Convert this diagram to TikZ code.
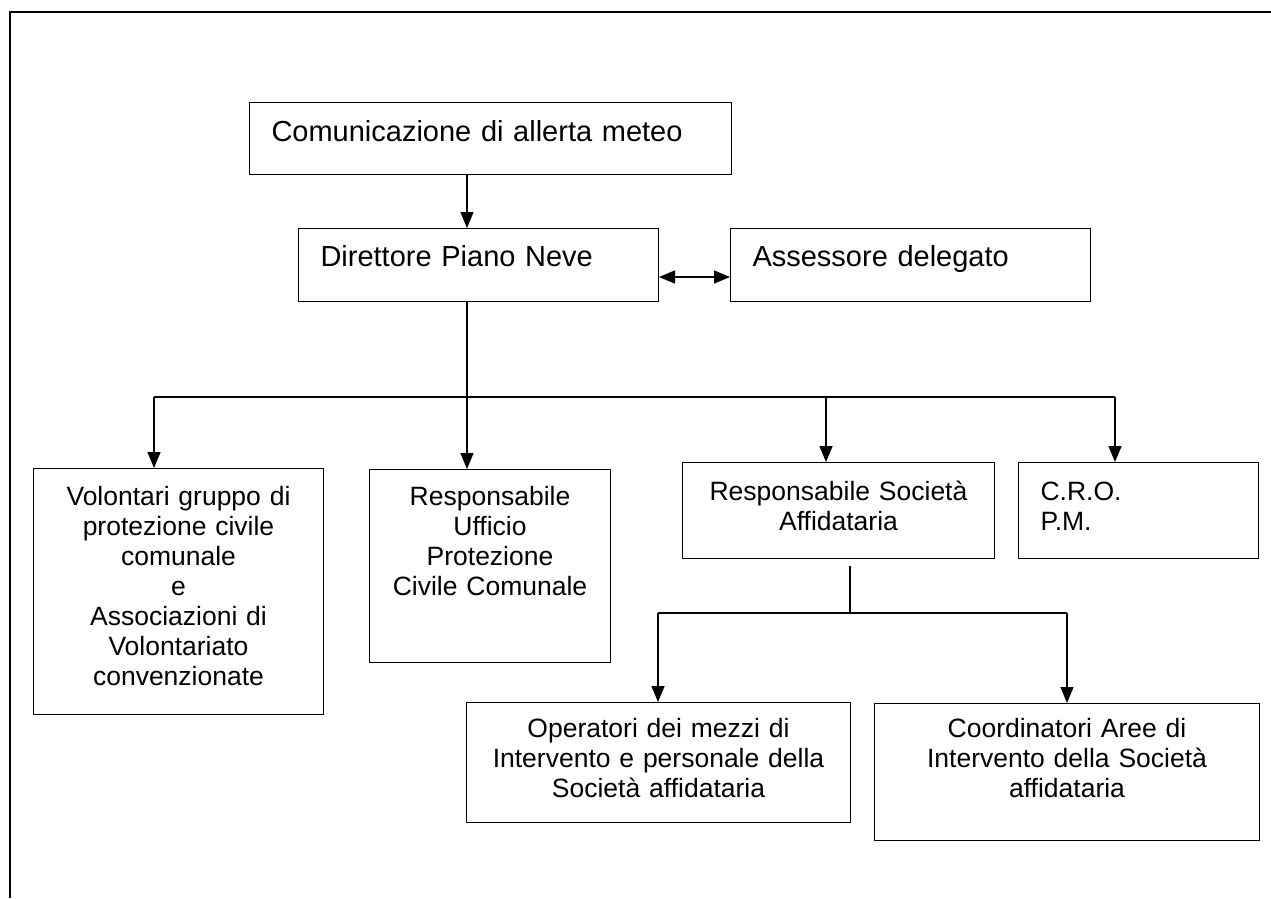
\documentclass[tikz,border=0pt]{standalone}
\usepackage{fontspec}
\setmainfont{Liberation Sans}
\usepackage{tikz}
\usetikzlibrary{arrows.meta, positioning, calc}
\newcommand{\headfont}{\fontsize{29}{33}\selectfont}
\newcommand{\bodyfont}{\fontsize{26.5}{30}\selectfont}

\begin{document}
\begin{tikzpicture}[x=1pt, y=-1pt,
    box/.style={draw, line width=1pt, anchor=north west, inner ysep=0pt},
    lbox/.style={box, align=left, inner xsep=22pt, font=\headfont},
    cbox/.style={box, align=center, inner xsep=0pt, font=\bodyfont},
    link/.style={line width=1.3pt},
    arr/.style={link, -{Triangle[length=16pt,width=13pt]}},
    arrs/.style={link, {Triangle[length=16pt,width=13pt]}-{Triangle[length=16pt,width=13pt]}}]
    \useasboundingbox (0,0) rectangle (1271,898);
    \draw[line width=2pt] (1271,12) -- (10,12) -- (10,898);

    % top of the chain
    \node[lbox, text width=438pt, text height=39pt, text depth=33pt] (com) at (249,102) {Comunicazione di allerta meteo};
    \node[lbox, text width=316pt, text height=38pt, text depth=35pt] (dir) at (298,228) {Direttore Piano Neve};
    \node[lbox, text width=316pt, text height=38pt, text depth=35pt] (ass) at (730,228) {Assessore delegato};

    % second level
    \node[cbox, text width=290pt, text height=37pt, text depth=209pt] (vol) at (33,468) {Volontari gruppo di\\protezione civile\\comunale\\e\\Associazioni di\\Volontariato\\convenzionate};
    \node[cbox, text width=241pt, text height=36pt, text depth=157pt] (uff) at (369,469) {Responsabile\\Ufficio\\Protezione\\Civile Comunale};
    \node[cbox, text width=312pt, text height=38pt, text depth=58pt] (soc) at (682,462) {Responsabile Società\\Affidataria};
    \node[lbox, font=\bodyfont, text width=196pt, text height=38pt, text depth=58pt] (cro) at (1018,462) {C.R.O.\\P.M.};

    % third level
    \node[cbox, text width=384pt, text height=35pt, text depth=85pt] (opera) at (466,702) {Operatori dei mezzi di\\Intervento e personale della\\Società affidataria};
    \node[cbox, text width=385pt, text height=34pt, text depth=103pt] (coord) at (874,703) {Coordinatori Aree di\\Intervento della Società\\affidataria};

    % connectors
    \coordinate (trunk) at (467,397);
    \coordinate (busL) at (154,397);
    \coordinate (busS) at (826,397);
    \coordinate (busR) at (1115,397);
    \coordinate (sub) at (850,613);
    \coordinate (subL) at (658,613);
    \coordinate (subR) at (1067,613);

    \draw[arr] (com.south -| trunk) -- (dir.north -| trunk);
    \draw[arrs] ([yshift=-12pt]dir.east) -- ([yshift=-12pt]ass.west);
    \draw[link] (dir.south -| trunk) -- (trunk);
    \draw[link] (busL) -- (busR);
    \draw[arr] (busL) -- (vol.north -| busL);
    \draw[arr] (trunk) -- (uff.north -| trunk);
    \draw[arr] (busS) -- (soc.north -| busS);
    \draw[arr] (busR) -- (cro.north -| busR);

    \draw[link] (soc.south -| sub) ++(0,7) -- (sub);
    \draw[link] (subL) -- (subR);
    \draw[arr] (subL) -- (opera.north -| subL);
    \draw[arr] (subR) -- (coord.north -| subR);
\end{tikzpicture}
\end{document}
